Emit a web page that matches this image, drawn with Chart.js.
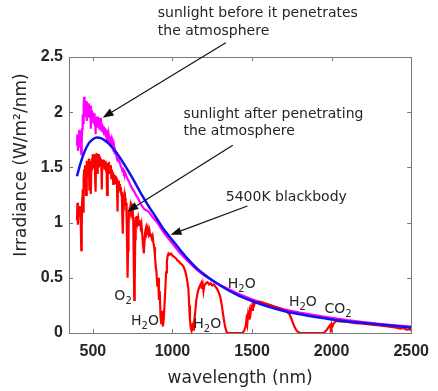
<!DOCTYPE html>
<html>
<head>
<meta charset="utf-8">
<script src="https://cdn.jsdelivr.net/npm/chart.js@4.4.1/dist/chart.umd.min.js"></script>
<style>
  html, body { margin: 0; padding: 0; background: #fff; }
  #wrap { width: 438px; height: 391px; }
</style>
</head>
<body>
<div id="wrap"><canvas id="myChart" width="438" height="391"></canvas></div>
<script>
// Data

const xTicks = [500, 1000, 1500, 2000, 2500];
const yTicks = [0, 0.5, 1, 1.5, 2, 2.5];

// 5400K blackbody
const bbWl = [400, 425, 450, 475, 500, 525, 550, 575, 600, 650, 700, 750, 800, 850, 900, 950,
  1000, 1050, 1100, 1150, 1200, 1300, 1400, 1500, 1600, 1700, 1800, 1900, 2000, 2100, 2200,
  2300, 2400, 2500];
const bbVal = [1.42, 1.55, 1.65, 1.72, 1.755, 1.77, 1.765, 1.745, 1.715, 1.63, 1.52, 1.40, 1.27,
  1.15, 1.04, 0.93, 0.84, 0.75, 0.665, 0.59, 0.53, 0.43, 0.35, 0.29, 0.24, 0.20, 0.17, 0.145,
  0.123, 0.105, 0.09, 0.077, 0.063, 0.05];

// sunlight before the atmosphere
const topWl = [400, 403, 406, 409, 412, 415, 418, 421, 424, 427, 430, 433, 436, 439, 442, 445,
  448, 451, 454, 457, 460, 463, 466, 469, 472, 475, 478, 481, 484, 487, 490, 493, 496, 499,
  502, 505, 508, 511, 514, 517, 520, 523, 526, 529, 532, 535, 538, 541, 544, 547, 550, 553,
  556, 559, 562, 565, 568, 571, 574, 577, 580, 583, 586, 589, 592, 595, 598, 601, 604, 607,
  610, 613, 616, 619, 622, 625, 628, 631, 634, 637, 640, 645, 650, 655, 660, 665, 670, 675,
  680, 685, 690, 695, 700, 710, 720, 730, 740, 750, 760, 770, 780, 790, 800, 825, 850, 875,
  900, 950, 1000, 1050, 1100, 1150, 1200, 1250, 1300, 1400, 1500, 1600, 1700, 1800, 1900,
  2000, 2100, 2200, 2300, 2400, 2500];
const topVal = [1.70, 1.80, 1.65, 1.78, 1.72, 1.84, 1.68, 1.76, 1.70, 1.62, 1.74, 1.85, 1.98,
  1.90, 2.05, 2.14, 1.96, 2.08, 2.00, 2.10, 2.04, 1.92, 2.06, 2.00, 2.08, 1.95, 2.04, 1.98,
  2.06, 1.85, 2.02, 1.96, 2.00, 1.90, 1.98, 1.93, 1.99, 1.88, 1.95, 1.80, 1.94, 1.88, 1.96,
  1.86, 1.93, 1.90, 1.95, 1.85, 1.92, 1.88, 1.95, 1.84, 1.90, 1.83, 1.88, 1.82, 1.87, 1.80,
  1.86, 1.81, 1.85, 1.78, 1.84, 1.74, 1.82, 1.76, 1.80, 1.74, 1.78, 1.72, 1.76, 1.70, 1.73,
  1.68, 1.71, 1.66, 1.69, 1.64, 1.67, 1.62, 1.65, 1.62, 1.60, 1.57, 1.58, 1.55, 1.54, 1.51,
  1.50, 1.47, 1.48, 1.45, 1.46, 1.42, 1.39, 1.36, 1.33, 1.30, 1.28, 1.25, 1.23, 1.20, 1.17,
  1.12, 1.10, 1.05, 1.01, 0.90, 0.81, 0.72, 0.645, 0.575, 0.52, 0.475, 0.435, 0.365, 0.305,
  0.255, 0.215, 0.185, 0.16, 0.137, 0.116, 0.099, 0.084, 0.070, 0.058];

// sunlight after the atmosphere
const groundWl = [400, 403, 406, 409, 412, 415, 418, 421, 424, 427, 430, 433, 436, 439, 442,
  445, 448, 451, 454, 457, 460, 463, 466, 469, 472, 475, 478, 481, 484, 487, 490, 493, 496,
  499, 502, 505, 508, 511, 514, 517, 520, 523, 526, 529, 532, 535, 538, 541, 544, 547, 550,
  553, 556, 559, 562, 565, 568, 571, 574, 577, 580, 583, 586, 589, 592, 595, 598, 601, 604,
  607, 610, 613, 616, 619, 622, 625, 628, 631, 634, 637, 640, 643, 646, 649, 652, 655, 658,
  661, 664, 667, 670, 673, 676, 679, 682, 685, 688, 691, 694, 697, 700, 703, 706, 709, 712,
  715, 718, 721, 724, 727, 730, 733, 736, 739, 742, 745, 748, 751, 754, 757, 760, 763, 766,
  769, 772, 775, 780, 785, 790, 795, 800, 805, 810, 815, 820, 825, 830, 835, 840, 845, 850,
  855, 860, 865, 870, 875, 880, 885, 890, 895, 900, 905, 910, 915, 920, 925, 930, 935, 940,
  945, 950, 955, 960, 965, 970, 975, 980, 990, 1000, 1010, 1020, 1030, 1040, 1050, 1060, 1070,
  1080, 1090, 1100, 1105, 1110, 1115, 1120, 1125, 1130, 1135, 1140, 1145, 1150, 1160, 1170,
  1180, 1185, 1190, 1195, 1200, 1210, 1220, 1230, 1240, 1250, 1260, 1270, 1280, 1290, 1300,
  1310, 1320, 1330, 1340, 1350, 1400, 1440, 1450, 1460, 1465, 1470, 1475, 1480, 1485, 1490,
  1495, 1500, 1505, 1510, 1520, 1530, 1540, 1560, 1580, 1600, 1620, 1640, 1660, 1680, 1700,
  1720, 1735, 1750, 1765, 1780, 1800, 1950, 1965, 1980, 1990, 1995, 2000, 2005, 2015, 2030,
  2050, 2100, 2150, 2200, 2250, 2300, 2350, 2400, 2430, 2450, 2470, 2490, 2500];
const groundVal = [1.02, 1.18, 0.98, 1.12, 1.05, 1.15, 1.08, 1.12, 0.98, 0.75, 0.95, 1.22,
  1.30, 1.10, 1.40, 1.48, 1.36, 1.52, 1.45, 1.25, 1.52, 1.56, 1.42, 1.55, 1.50, 1.58, 1.30,
  1.56, 1.52, 1.26, 1.48, 1.58, 1.55, 1.62, 1.50, 1.60, 1.55, 1.62, 1.40, 1.28, 1.58, 1.63,
  1.45, 1.60, 1.55, 1.62, 1.50, 1.56, 1.60, 1.52, 1.58, 1.54, 1.30, 1.56, 1.52, 1.57, 1.50,
  1.55, 1.48, 1.53, 1.56, 1.47, 1.52, 1.25, 1.48, 1.54, 1.50, 1.55, 1.45, 1.50, 1.47, 1.52,
  1.40, 1.48, 1.44, 1.46, 1.35, 1.44, 1.40, 1.43, 1.36, 1.42, 1.38, 1.40, 1.30, 1.10, 1.36,
  1.34, 1.38, 1.30, 1.35, 1.28, 1.32, 1.25, 1.28, 1.05, 0.90, 1.12, 1.22, 1.25, 1.20, 1.22,
  1.15, 1.18, 1.05, 0.80, 0.50, 0.75, 0.95, 1.10, 1.14, 1.10, 1.15, 1.12, 1.14, 1.10, 1.12,
  1.08, 1.02, 0.60, 0.30, 0.45, 0.85, 1.05, 1.02, 1.06, 1.00, 1.04, 0.98, 1.02, 0.96, 0.99,
  0.90, 0.80, 0.72, 0.85, 0.93, 0.96, 0.92, 0.95, 0.90, 0.93, 0.88, 0.90, 0.86, 0.88, 0.82,
  0.78, 0.70, 0.60, 0.55, 0.42, 0.50, 0.30, 0.38, 0.15, 0.08, 0.20, 0.06, 0.12, 0.25, 0.40,
  0.55, 0.65, 0.70, 0.72, 0.71, 0.72, 0.70, 0.69, 0.68, 0.66, 0.65, 0.63, 0.62, 0.60, 0.56,
  0.50, 0.40, 0.25, 0.12, 0.05, 0.02, 0.06, 0.03, 0.08, 0.15, 0.22, 0.30, 0.38, 0.42, 0.45,
  0.40, 0.44, 0.38, 0.43, 0.45, 0.46, 0.44, 0.45, 0.43, 0.44, 0.42, 0.40, 0.37, 0.33, 0.25,
  0.15, 0.06, 0.01, 0, 0, 0, 0.02, 0.06, 0.12, 0.08, 0.16, 0.12, 0.20, 0.17, 0.23, 0.21,
  0.26, 0.24, 0.28, 0.275, 0.285, 0.28, 0.27, 0.26, 0.25, 0.24, 0.23, 0.22, 0.21, 0.19,
  0.17, 0.12, 0.06, 0.02, 0, 0, 0.02, 0.05, 0.07, 0.05, 0.08, 0.06, 0.09, 0.11, 0.105, 0.10,
  0.09, 0.085, 0.075, 0.068, 0.06, 0.05, 0.04, 0.045, 0.03, 0.035, 0.025];

// Annotations, in data units

const notes = [
  { lines: ['sunlight before it penetrates', 'the atmosphere'], at: [908, 2.86] },
  { lines: ['sunlight after penetrating', 'the atmosphere'], at: [1069, 1.95] },
  { lines: ['5400K blackbody'], at: [1335, 1.20] }
];
const arrows = [
  { from: [1335, 2.63], to: [561, 1.95] },
  { from: [1379, 1.70], to: [716, 1.10] },
  { from: [1471, 1.15], to: [988, 0.89] }
];
const bands = [
  { text: 'O₂', at: [635, 0.30] },
  { text: 'H₂O', at: [740, 0.07] },
  { text: 'H₂O', at: [1131, 0.045] },
  { text: 'H₂O', at: [1348, 0.41] },
  { text: 'H₂O', at: [1732, 0.245] },
  { text: 'CO₂', at: [1955, 0.18] }
];

function toPoints(wl, val) {
  return wl.map((w, i) => ({ x: w, y: val[i] }));
}

const textColor = '#262626';
const boxColor = '#7a7a7a';
const labelFont = '14px "DejaVu Sans"';
const subFont = '10px "DejaVu Sans"';

function drawArrow(c, x1, y1, x2, y2) {
  const ang = Math.atan2(y2 - y1, x2 - x1);
  const len = 11, half = 4;
  const bx = x2 - len * Math.cos(ang);
  const by = y2 - len * Math.sin(ang);
  c.beginPath();
  c.moveTo(x1, y1);
  c.lineTo(bx, by);
  c.stroke();
  c.beginPath();
  c.moveTo(x2, y2);
  c.lineTo(bx + half * Math.sin(ang), by - half * Math.cos(ang));
  c.lineTo(bx - half * Math.sin(ang), by + half * Math.cos(ang));
  c.closePath();
  c.fill();
}

// draws 'H₂O' style text with a lowered, smaller 2
function drawFormula(c, text, x, y) {
  let cx = x;
  for (const ch of text) {
    if (ch === '₂') {
      c.font = subFont;
      c.fillText('2', cx, y + 4);
      cx += c.measureText('2').width;
    } else {
      c.font = labelFont;
      c.fillText(ch, cx, y);
      cx += c.measureText(ch).width;
    }
  }
  c.font = labelFont;
}

// Box, inward ticks, titles and notes

const decorPlugin = {
  id: 'decor',
  afterDraw(chart) {
    const c = chart.ctx;
    const a = chart.chartArea;
    const sx = chart.scales.x;
    const sy = chart.scales.y;
    const tl = 4;

    c.save();
    c.strokeStyle = boxColor;
    c.lineWidth = 1;
    c.strokeRect(Math.round(a.left) + 0.5, Math.round(a.top) + 0.5,
      Math.round(a.right - a.left), Math.round(a.bottom - a.top));
    c.beginPath();
    xTicks.forEach(v => {
      const px = Math.round(sx.getPixelForValue(v)) + 0.5;
      c.moveTo(px, a.bottom); c.lineTo(px, a.bottom - tl);
      c.moveTo(px, a.top); c.lineTo(px, a.top + tl);
    });
    yTicks.forEach(v => {
      const py = Math.round(sy.getPixelForValue(v)) + 0.5;
      c.moveTo(a.left, py); c.lineTo(a.left + tl, py);
      c.moveTo(a.right, py); c.lineTo(a.right - tl, py);
    });
    c.stroke();

    // axis titles
    c.fillStyle = textColor;
    c.font = '17px "DejaVu Sans"';
    c.textAlign = 'center';
    c.textBaseline = 'middle';
    c.fillText('wavelength (nm)', (a.left + a.right) / 2, 379);
    c.save();
    c.translate(22, 165);
    c.rotate(-Math.PI / 2);
    c.fillText('Irradiance (W/m²/nm)', 0, 0);
    c.restore();

    // notes and arrows
    c.font = labelFont;
    c.textAlign = 'left';
    c.textBaseline = 'alphabetic';
    notes.forEach(n => {
      const x = sx.getPixelForValue(n.at[0]);
      const y = sy.getPixelForValue(n.at[1]);
      n.lines.forEach((t, i) => c.fillText(t, x, y + i * 17.5));
    });
    bands.forEach(b => {
      drawFormula(c, b.text, sx.getPixelForValue(b.at[0]), sy.getPixelForValue(b.at[1]));
    });
    c.strokeStyle = '#111';
    c.fillStyle = '#111';
    c.lineWidth = 1.2;
    arrows.forEach(ar => {
      drawArrow(c,
        sx.getPixelForValue(ar.from[0]), sy.getPixelForValue(ar.from[1]),
        sx.getPixelForValue(ar.to[0]), sy.getPixelForValue(ar.to[1]));
    });
    c.restore();
  }
};

const ctx = document.getElementById('myChart').getContext('2d');

const tickFont = { family: 'Liberation Sans', size: 16, weight: 'bold' };

const myChart = new Chart(ctx, {
  type: 'line',
  data: {
    datasets: [
      {
        label: '5400K blackbody',
        data: toPoints(bbWl, bbVal),
        borderColor: '#1010f0',
        borderWidth: 2.5,
        cubicInterpolationMode: 'monotone'
      },
      {
        label: 'after atmosphere',
        data: toPoints(groundWl, groundVal),
        borderColor: '#ff0000',
        borderWidth: 2.2
      },
      {
        label: 'before atmosphere',
        data: toPoints(topWl, topVal),
        borderColor: '#ff00ff',
        borderWidth: 2.2
      }
    ]
  },
  options: {
    responsive: false,
    animation: false,
    devicePixelRatio: 1,
    layout: { padding: { top: 57, right: 22, left: 0, bottom: 0 } },
    elements: { point: { radius: 0 }, line: { tension: 0 } },
    plugins: {
      legend: { display: false },
      tooltip: { enabled: false }
    },
    scales: {
      x: {
        type: 'linear',
        min: 350,
        max: 2500,
        afterBuildTicks: s => { s.ticks = xTicks.map(v => ({ value: v })); },
        afterFit: s => { s.height = 58; },
        grid: { display: false, drawTicks: false },
        border: { display: false },
        ticks: {
          padding: 9,
          autoSkip: false,
          maxRotation: 0,
          color: textColor,
          font: tickFont,
          callback: v => String(v)
        }
      },
      y: {
        min: 0,
        max: 2.5,
        afterBuildTicks: s => { s.ticks = yTicks.map(v => ({ value: v })); },
        afterFit: s => { s.width = 69; },
        grid: { display: false, drawTicks: false },
        border: { display: false },
        ticks: {
          padding: 6,
          color: textColor,
          font: tickFont,
          callback: v => String(v)
        }
      }
    }
  },
  plugins: [decorPlugin]
});
</script>
</body>
</html>
